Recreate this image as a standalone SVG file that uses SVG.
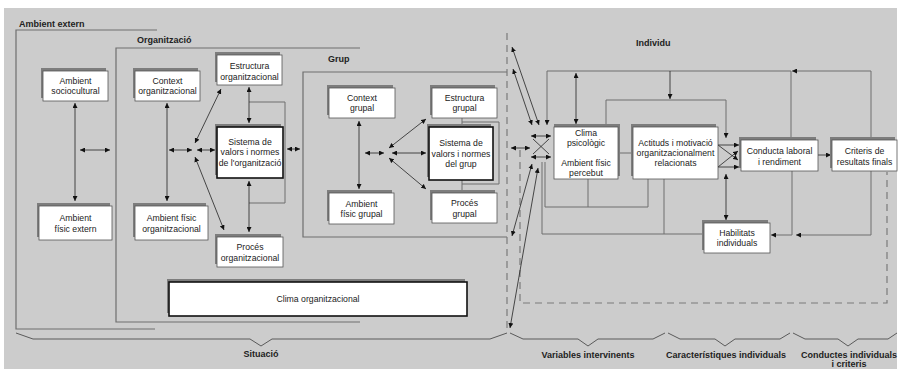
<svg xmlns="http://www.w3.org/2000/svg" width="901" height="369" viewBox="0 0 901 369">
<style>
.bg{fill:#cccccc}
.region{fill:none;stroke:#6e6e6e;stroke-width:1.2}
.dash{fill:none;stroke:#7a7a7a;stroke-width:1.2;stroke-dasharray:7,5}
.brace{fill:none;stroke:#5a5a5a;stroke-width:1}
.sh{fill:#7d7d7d}
.box{fill:#fff;stroke:#555;stroke-width:0.8}
.thick{fill:#fff;stroke:#111;stroke-width:1.6}
.t{font-family:"Liberation Sans",Arial,sans-serif;font-size:8.7px;fill:#222;text-anchor:middle}
.lbl{font-family:"Liberation Sans",Arial,sans-serif;font-size:9px;font-weight:bold;fill:#222}
.mid{text-anchor:middle}
.c{fill:none;stroke:#222;stroke-width:0.8}
.g{fill:none;stroke:#6e6e6e;stroke-width:1}
.ab{marker-start:url(#a);marker-end:url(#a)}
.ae{marker-end:url(#a)}
</style>
<defs>
<marker id="a" viewBox="0 0 6 6" refX="6" refY="3" markerWidth="5" markerHeight="5" markerUnits="userSpaceOnUse" orient="auto-start-reverse"><path d="M0,0 L6,3 L0,6 z" fill="#111"/></marker>
</defs>
<rect class="bg" x="4" y="8" width="893" height="361"/>

<g id="regions">
<path class="region" d="M157,30 H16 V329 H155"/>
<path class="region" d="M360,48 H116 V322 H360"/>
<path class="region" d="M507,72 H303 V237 H507"/>
<path class="dash" d="M507,33 V330"/>
<path class="dash" d="M520,150 V303 H887 V172"/>
<path class="brace" d="M16,333 L33,339 H250 L261,346 L272,339 H490 L507,333"/>
<path class="brace" d="M510,333 L523,339 H578 L588,346 L598,339 H653 L665,333"/>
<path class="brace" d="M668,333 L680,339 H715 L725,346 L735,339 H780 L790,333"/>
<path class="brace" d="M793,333 L805,339 H838 L848,346 L858,339 H888 L897,333"/>
<text class="lbl" x="19" y="27">Ambient extern</text>
<text class="lbl" x="137" y="43">Organització</text>
<text class="lbl" x="328" y="62">Grup</text>
<text class="lbl" x="636" y="46">Individu</text>
<text class="lbl mid" x="261" y="357">Situació</text>
<text class="lbl mid" x="588" y="358">Variables intervinents</text>
<text class="lbl mid" x="726" y="358">Característiques individuals</text>
<text class="lbl mid" x="849" y="358">Conductes individuals</text>
<text class="lbl mid" x="849" y="367">i criteris</text>
</g>

<g id="connectors">
<!-- ambient extern -->
<path class="c ab" d="M75,103 V201"/>
<path class="c ab" d="M80,150 H110"/>
<!-- organització -->
<path class="c ab" d="M167,103 V201"/>
<path class="c ab" d="M169,150 H192"/>
<path class="c ab" d="M197,150 H215"/>
<path class="c ab" d="M195,143 L221,89"/>
<path class="c ab" d="M195,157 L224,230"/>
<path class="g" d="M249,102 H285 V203 H249"/>
<path class="c ab" d="M249,87 V123"/>
<path class="c ab" d="M249,181 V232"/>
<path class="c ab" d="M287,149 H300"/>
<!-- grup -->
<path class="g" d="M462,118 V191"/>
<path class="g" d="M462,122 H499 V184 H462"/>
<path class="c ab" d="M359,121 V189"/>
<path class="c ab" d="M365,153 H384"/>
<path class="c ab" d="M392,153 H426"/>
<path class="c ab" d="M389,148 L426,119"/>
<path class="c ab" d="M389,158 L426,189"/>
<!-- situació to individu -->
<path class="c ab" d="M511,148 H530"/>
<path class="c ab" d="M512,47 L539,125"/>
<path class="c ab" d="M513,69 L532,125"/>
<path class="c ab" d="M532,164 L512,236"/>
<path class="c ab" d="M538,168 L510,328"/>
<!-- left junction -->
<path class="c ab" d="M531,136 H551"/>
<path class="c ab" d="M531,157 H551"/>
<path class="c" d="M533,139 L549,154 M549,139 L533,154"/>
<!-- individu loops -->
<path class="g ae" d="M871,140 V71 H792"/>
<path class="g ae" d="M791,140 V71 H547 V125"/>
<path class="c ab" d="M576,73 V124"/>
<path class="c ae" d="M670,71 V99"/>
<path class="g ae" d="M606,127 V100 H726 V138"/>
<path class="g" d="M618,153 H633"/>
<path class="g" d="M545,162 V207 H648 V179 M588,179 V207"/>
<path class="g" d="M542,162 V234 H704 M664,179 V234"/>
<!-- right junction -->
<path class="c ae" d="M718,145 H739"/>
<path class="c ae" d="M718,167 H739"/>
<path class="c ae" d="M718,145 L738,160"/>
<path class="c ae" d="M718,167 L738,151"/>
<path class="c ab" d="M726,174 V220"/>
<path class="c ae" d="M818,155 H831"/>
<path class="g ae" d="M871,171 V235 H796"/>
<path class="g ae" d="M792,171 V235 H771"/>
</g>

<g id="amb-socio"><rect class="sh" x="41" y="68" width="65" height="30"/><rect class="box" x="43" y="71" width="65" height="30"/>
<text class="t" x="75.5" y="84">Ambient</text><text class="t" x="75.5" y="94">sociocultural</text></g>
<g id="amb-fis-ext"><rect class="sh" x="37" y="203" width="73" height="34"/><rect class="box" x="39" y="206" width="73" height="34"/>
<text class="t" x="75.5" y="221">Ambient</text><text class="t" x="75.5" y="232">físic extern</text></g>
<g id="ctx-org"><rect class="sh" x="133" y="68" width="65" height="30"/><rect class="box" x="135" y="71" width="65" height="30"/>
<text class="t" x="167.5" y="84">Context</text><text class="t" x="167.5" y="94">organitzacional</text></g>
<g id="amb-fis-org"><rect class="sh" x="133" y="203" width="73" height="34"/><rect class="box" x="135" y="206" width="73" height="34"/>
<text class="t" x="171.5" y="221">Ambient físic</text><text class="t" x="171.5" y="232">organitzacional</text></g>
<g id="estr-org"><rect class="sh" x="215" y="52" width="65" height="30"/><rect class="box" x="217" y="55" width="65" height="30"/>
<text class="t" x="249.5" y="69">Estructura</text><text class="t" x="249.5" y="80">organitzacional</text></g>
<g id="sist-org"><rect class="sh" x="215" y="124" width="66" height="51"/><rect class="thick" x="217" y="127" width="66" height="51"/>
<text class="t" x="250" y="145">Sistema de</text><text class="t" x="250" y="155">valors i normes</text><text class="t" x="250" y="166">de l'organització</text></g>
<g id="proces-org"><rect class="sh" x="215" y="234" width="66" height="30"/><rect class="box" x="217" y="237" width="66" height="30"/>
<text class="t" x="250" y="250">Procés</text><text class="t" x="250" y="261">organitzacional</text></g>
<g id="clima-org"><rect class="sh" x="167" y="279" width="298" height="34"/><rect class="thick" x="169" y="282" width="298" height="34"/>
<text class="t" x="318" y="302">Clima organitzacional</text></g>
<g id="ctx-grup"><rect class="sh" x="327" y="85" width="66" height="30"/><rect class="box" x="329" y="88" width="66" height="30"/>
<text class="t" x="362" y="101">Context</text><text class="t" x="362" y="111">grupal</text></g>
<g id="estr-grup"><rect class="sh" x="430" y="85" width="65" height="30"/><rect class="box" x="432" y="88" width="65" height="30"/>
<text class="t" x="464.5" y="101">Estructura</text><text class="t" x="464.5" y="111">grupal</text></g>
<g id="sist-grup"><rect class="sh" x="427" y="124" width="64" height="53"/><rect class="thick" x="429" y="127" width="64" height="53"/>
<text class="t" x="461" y="146">Sistema de</text><text class="t" x="461" y="157">valors i normes</text><text class="t" x="461" y="167">del grup</text></g>
<g id="amb-fis-grup"><rect class="sh" x="327" y="190" width="65" height="31"/><rect class="box" x="329" y="193" width="65" height="31"/>
<text class="t" x="361.5" y="207">Ambient</text><text class="t" x="361.5" y="217">físic grupal</text></g>
<g id="proces-grup"><rect class="sh" x="430" y="190" width="65" height="30"/><rect class="box" x="432" y="193" width="65" height="30"/>
<text class="t" x="464.5" y="206">Procés</text><text class="t" x="464.5" y="217">grupal</text></g>
<g id="clima-psi"><rect class="sh" x="554" y="124" width="66" height="52"/><rect class="box" x="554" y="127" width="64" height="52"/>
<text class="t" x="586" y="136">Clima</text><text class="t" x="586" y="146">psicològic</text><text class="t" x="586" y="166">Ambient físic</text><text class="t" x="586" y="176">percebut</text></g>
<g id="actituds"><rect class="sh" x="631" y="124" width="85" height="52"/><rect class="box" x="633" y="127" width="85" height="52"/>
<text class="t" x="675.5" y="146">Actituds i motivació</text><text class="t" x="675.5" y="156">organitzacionalment</text><text class="t" x="675.5" y="166">relacionats</text></g>
<g id="conducta"><rect class="sh" x="739" y="137" width="77" height="31"/><rect class="box" x="741" y="140" width="77" height="31"/>
<text class="t" x="779.5" y="154">Conducta laboral</text><text class="t" x="779.5" y="165">i rendiment</text></g>
<g id="criteris"><rect class="sh" x="830" y="137" width="65" height="31"/><rect class="box" x="832" y="140" width="65" height="31"/>
<text class="t" x="864.5" y="154">Criteris de</text><text class="t" x="864.5" y="165">resultats finals</text></g>
<g id="habilitats"><rect class="sh" x="702" y="220" width="66" height="30"/><rect class="box" x="704" y="223" width="66" height="30"/>
<text class="t" x="737" y="236">Habilitats</text><text class="t" x="737" y="246">individuals</text></g>
</svg>
